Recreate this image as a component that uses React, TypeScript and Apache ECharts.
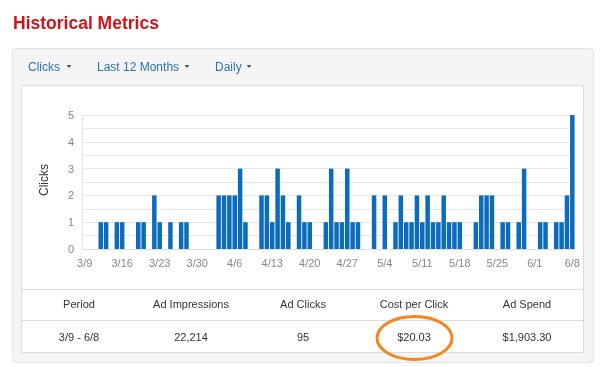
import React, { useEffect, useRef } from "react";
import * as echarts from "echarts";

const dates = [
  "3/9","3/10","3/11","3/12","3/13","3/14","3/15","3/16","3/17","3/18","3/19","3/20","3/21","3/22","3/23","3/24","3/25","3/26","3/27","3/28","3/29","3/30","3/31",
  "4/1","4/2","4/3","4/4","4/5","4/6","4/7","4/8","4/9","4/10","4/11","4/12","4/13","4/14","4/15","4/16","4/17","4/18","4/19","4/20","4/21","4/22","4/23","4/24","4/25","4/26","4/27","4/28","4/29","4/30",
  "5/1","5/2","5/3","5/4","5/5","5/6","5/7","5/8","5/9","5/10","5/11","5/12","5/13","5/14","5/15","5/16","5/17","5/18","5/19","5/20","5/21","5/22","5/23","5/24","5/25","5/26","5/27","5/28","5/29","5/30","5/31",
  "6/1","6/2","6/3","6/4","6/5","6/6","6/7","6/8",
];

const clicks = [
  0,0,0,1,1,0,1,1,0,0,1,1,0,2,1,0,1,0,1,1,0,0,0,
  0,0,2,2,2,2,3,1,0,0,2,2,1,3,2,1,0,2,1,1,0,0,1,3,1,1,3,1,1,0,
  0,2,0,2,0,1,2,1,1,2,1,2,1,1,2,1,1,1,0,0,1,2,2,2,0,1,1,0,1,3,0,
  0,1,1,0,1,1,2,5,
];

const yTicks = [0, 1, 2, 3, 4, 5];
const menuItems = ["Clicks", "Last 12 Months", "Daily"];
const tableHeaders = ["Period", "Ad Impressions", "Ad Clicks", "Cost per Click", "Ad Spend"];
const tableValues = ["3/9 - 6/8", "22,214", "95", "$20.03", "$1,903.30"];

const FONT = "'Liberation Sans', Arial, Helvetica, sans-serif";

export default function App() {
  const ref = useRef<HTMLDivElement>(null);
  useEffect(() => {
    if (!ref.current) return;
    const chart = echarts.init(ref.current, null, { renderer: "svg" });

    const menuX = [28, 97, 215];
    const caretX = [69, 187, 249];
    const colX = [79, 191, 303, 414, 527];

    const graphics: any[] = [
      { type: "rect", z: -10, shape: { x: 12.5, y: 48.5, width: 581, height: 314, r: 4 }, style: { fill: "#f5f5f5", stroke: "#e3e3e3", lineWidth: 1 } },
      { type: "rect", z: -9, shape: { x: 21.5, y: 85.5, width: 562, height: 267 }, style: { fill: "#ffffff", stroke: "#dddddd", lineWidth: 1 } },
      { type: "line", z: -8, shape: { x1: 22, y1: 289.5, x2: 583, y2: 289.5 }, style: { stroke: "#dddddd", lineWidth: 1 } },
      { type: "line", z: -8, shape: { x1: 22, y1: 320.5, x2: 583, y2: 320.5 }, style: { stroke: "#dddddd", lineWidth: 1 } },
      { type: "text", x: 13, y: 23, style: { text: "Historical Metrics", fill: "#d0141a", font: `bold 17.5px ${FONT}`, textAlign: "left", textVerticalAlign: "middle" } },
      { type: "text", x: 44, y: 180, rotation: Math.PI / 2, style: { text: "Clicks", fill: "#333333", font: `12px ${FONT}`, textAlign: "center", textVerticalAlign: "middle" } },
    ];
    menuItems.forEach((m, i) => {
      graphics.push({ type: "text", x: menuX[i], y: 66.5, style: { text: m, fill: "#2a72b8", font: `12px ${FONT}`, textAlign: "left", textVerticalAlign: "middle" } });
      graphics.push({ type: "polygon", shape: { points: [[caretX[i] - 2.5, 65], [caretX[i] + 2.5, 65], [caretX[i], 68]] }, style: { fill: "#555555" } });
    });
    tableHeaders.forEach((h, i) => {
      graphics.push({ type: "text", x: colX[i], y: 304, style: { text: h, fill: "#333333", font: `11px ${FONT}`, textAlign: "center", textVerticalAlign: "middle" } });
    });
    tableValues.forEach((v, i) => {
      graphics.push({ type: "text", x: colX[i], y: 337, style: { text: v, fill: "#333333", font: `11px ${FONT}`, textAlign: "center", textVerticalAlign: "middle" } });
    });
    graphics.push({ type: "ellipse", shape: { cx: 414.5, cy: 338, rx: 37.5, ry: 21.5 }, style: { fill: "none", stroke: "#f5861f", lineWidth: 3 } });

    chart.setOption({
      animation: false,
      grid: { left: 82, right: 25, top: 115, bottom: 118 },
      xAxis: {
        type: "category",
        data: dates,
        boundaryGap: true,
        axisLine: { show: true, lineStyle: { color: "#dddddd" } },
        axisTick: { show: false },
        axisLabel: { interval: 6, color: "#888888", fontSize: 11, fontFamily: FONT, margin: 8 },
        splitLine: { show: false },
      },
      yAxis: {
        type: "value",
        min: yTicks[0],
        max: yTicks[yTicks.length - 1],
        interval: 0.5,
        axisLine: { show: true, lineStyle: { color: "#e2e2e2" } },
        axisTick: { show: false },
        axisLabel: {
          color: "#888888",
          fontSize: 11,
          fontFamily: FONT,
          margin: 8,
          formatter: (v: number) => (yTicks.indexOf(v) >= 0 ? String(v) : ""),
        },
        splitLine: { show: true, lineStyle: { color: "#e8e8e8" } },
      },
      series: [
        {
          type: "bar",
          data: clicks,
          barCategoryGap: "16%",
          itemStyle: { color: "#0b6cbb" },
        },
      ],
      graphic: { elements: graphics },
    });
    return () => chart.dispose();
  }, []);
  return <div ref={ref} style={{ position: "fixed", left: 0, top: 0, width: 600, height: 367 }} />;
}
